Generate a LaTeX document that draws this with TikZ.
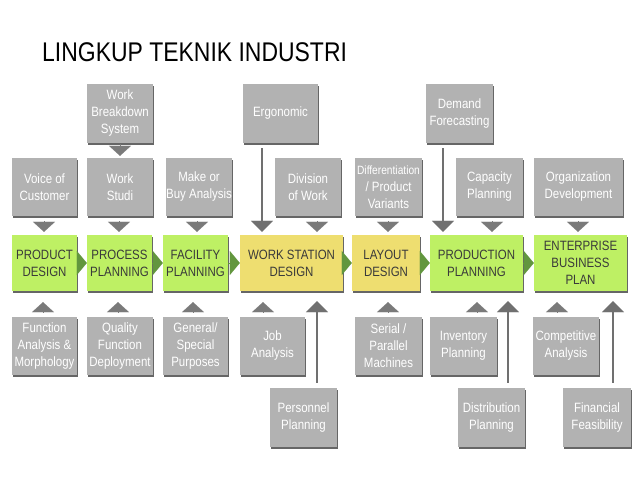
\documentclass[tikz,border=0pt]{standalone}
\usepackage{fontspec}
\setmainfont{Liberation Sans}[FakeStretch=0.85]
\usetikzlibrary{arrows.meta,shadows}

\begin{document}
\begin{tikzpicture}[x=1pt,y=-1pt]
\definecolor{box gray}{RGB}{178,178,178}
\definecolor{main green}{RGB}{190,240,100}
\definecolor{station yellow}{RGB}{238,222,112}
\definecolor{main text}{RGB}{58,58,58}
\definecolor{tri gray}{RGB}{122,122,122}
\definecolor{line gray}{RGB}{112,112,112}
\definecolor{flow green}{RGB}{98,150,62}
\tikzset{
     box/.style={fill=box gray, text=white, inner sep=0pt, align=center,
       minimum width=66pt, minimum height=58pt, font=\fontsize{13.5}{17}\selectfont,
       drop shadow={shadow xshift=0.6pt, shadow yshift=-1.6pt, fill=black!60, opacity=1}},
     main/.style={box, fill=main green, text=main text, minimum height=56pt},
     station/.style={main, fill=station yellow},
     tri/.style={-{Triangle[width=22pt,length=10pt,line width=0.1pt]}, draw=tri gray, line width=0.1pt},
     longline/.style={-{Triangle[width=22pt,length=11pt,line width=0.1pt]}, draw=line gray, line width=2.5pt},
     flow/.style={-{Triangle[width=24pt,length=10pt,line width=0.1pt]}, draw=flow green, line width=0.1pt}}

\fill[white] (0,0) rectangle (638,479);
\useasboundingbox (0,0) rectangle (638,479);

% The title
\node (title) at (42,61) [anchor=base west, inner sep=0pt, font=\fontsize{27}{32}\selectfont] {LINGKUP TEKNIK INDUSTRI};

% The upper boxes
\node (wbs)      at (120,113.5)   [box, minimum height=59pt] {Work\\Breakdown\\System};
\node (ergo)     at (280.5,113.5) [box, minimum width=75pt, minimum height=59pt] {Ergonomic};
\node (demand)   at (459.5,113.5) [box, minimum width=67pt, minimum height=59pt] {Demand\\Forecasting};

\node (voice)    at (44.5,187)  [box, minimum width=65pt] {Voice of\\Customer};
\node (studi)    at (120,187)   [box] {Work\\Studi};
\node (make)     at (199,187)   [box] {Make or\\Buy Analysis};
\node (division) at (308,187)   [box] {Division\\of Work};
\node (diff)     at (388.5,187) [box, minimum width=67pt] {{\fontsize{12}{17}\selectfont Differentiation}\\/ Product\\Variants};
\node (capacity) at (489.5,187) [box, minimum width=67pt] {Capacity\\Planning};
\node (org)      at (578.5,187) [box, minimum width=89pt] {Organization\\Development};

% The main row
\node (product)    at (44.5,263)  [main, minimum width=65pt] {PRODUCT\\DESIGN};
\node (process)    at (119.5,263) [main, minimum width=65pt] {PROCESS\\PLANNING};
\node (facility)   at (195.5,263) [main, minimum width=65pt] {FACILITY\\PLANNING};
\node (wsd)        at (291.5,263) [station, minimum width=103pt] {WORK STATION\\DESIGN};
\node (layout)     at (386,263)   [station, minimum width=68pt] {LAYOUT\\DESIGN};
\node (production) at (476.5,263) [main, minimum width=93pt] {PRODUCTION\\PLANNING};
\node (enterprise) at (580.5,263) [main, minimum width=93pt] {ENTERPRISE\\BUSINESS\\PLAN};

% The lower boxes
\node (func)        at (44.5,346)  [box, minimum width=65pt] {Function\\Analysis \&\\Morphology};
\node (quality)     at (120,346)   [box] {Quality\\Function\\Deployment};
\node (general)     at (195.5,346) [box, minimum width=65pt] {General/\\Special\\Purposes};
\node (job)         at (272.5,346) [box, minimum width=65pt] {Job\\Analysis};
\node (serial)      at (388.5,346) [box, minimum width=67pt] {Serial /\\Parallel\\Machines};
\node (inventory)   at (463.5,346) [box, minimum width=67pt] {Inventory\\Planning};
\node (competitive) at (566,346)   [box] {Competitive\\Analysis};

\node (personnel)    at (303.5,417.5) [box, minimum width=67pt, minimum height=59pt] {Personnel\\Planning};
\node (distribution) at (491.5,417.5) [box, minimum width=67pt, minimum height=59pt] {Distribution\\Planning};
\node (financial)    at (597,417.5)   [box, minimum width=68pt, minimum height=59pt] {Financial\\Feasibility};

% The flow along the main row
\draw [flow] (product) -- (process);
\draw [flow] (process) -- (facility);
\draw [flow] (facility) -- (wsd);
\draw [flow] (wsd) -- (layout);
\draw [flow] (layout) -- (production);
\draw [flow] (production) -- (enterprise);

% Arrows from above
\draw [tri, shorten <=1pt, shorten >=2pt] (wbs.south -| 120,0) -- (studi.north -| 120,0);
\draw [tri, shorten <=5pt, shorten >=3pt] (voice.south -| 44,0) -- (product.north -| 44,0);
\draw [tri, shorten <=5pt, shorten >=3pt] (studi.south -| 119,0) -- (process.north -| 119,0);
\draw [tri, shorten <=5pt, shorten >=3pt] (make.south -| 197,0) -- (facility.north -| 197,0);
\draw [tri, shorten <=5pt, shorten >=3pt] (division.south -| 317,0) -- (wsd.north -| 317,0);
\draw [tri, shorten <=5pt, shorten >=3pt] (diff.south -| 388,0) -- (layout.north -| 388,0);
\draw [tri, shorten <=5pt, shorten >=3pt] (capacity.south -| 492,0) -- (production.north -| 492,0);
\draw [tri, shorten <=5pt, shorten >=3pt] (org.south -| 578,0) -- (enterprise.north -| 578,0);
\draw [longline, shorten <=5pt, shorten >=3pt] (ergo.south -| 262,0) -- (wsd.north -| 262,0);
\draw [longline, shorten <=5pt, shorten >=3pt] (demand.south -| 443,0) -- (production.north -| 443,0);

% Arrows from below
\draw [tri, shorten <=4pt, shorten >=11pt] (func.north -| 43,0) -- (product.south -| 43,0);
\draw [tri, shorten <=4pt, shorten >=11pt] (quality.north -| 118,0) -- (process.south -| 118,0);
\draw [tri, shorten <=4pt, shorten >=11pt] (general.north -| 193,0) -- (facility.south -| 193,0);
\draw [tri, shorten <=4pt, shorten >=11pt] (job.north -| 263,0) -- (wsd.south -| 263,0);
\draw [tri, shorten <=4pt, shorten >=11pt] (serial.north -| 388,0) -- (layout.south -| 388,0);
\draw [tri, shorten <=4pt, shorten >=11pt] (inventory.north -| 477,0) -- (production.south -| 477,0);
\draw [tri, shorten <=4pt, shorten >=11pt] (competitive.north -| 557,0) -- (enterprise.south -| 557,0);
\draw [longline, shorten <=5pt, shorten >=10pt] (personnel.north -| 317,0) -- (wsd.south -| 317,0);
\draw [longline, shorten <=5pt, shorten >=10pt] (distribution.north -| 508,0) -- (production.south -| 508,0);
\draw [longline, shorten <=5pt, shorten >=10pt] (financial.north -| 613,0) -- (enterprise.south -| 613,0);
\end{tikzpicture}
\end{document}
